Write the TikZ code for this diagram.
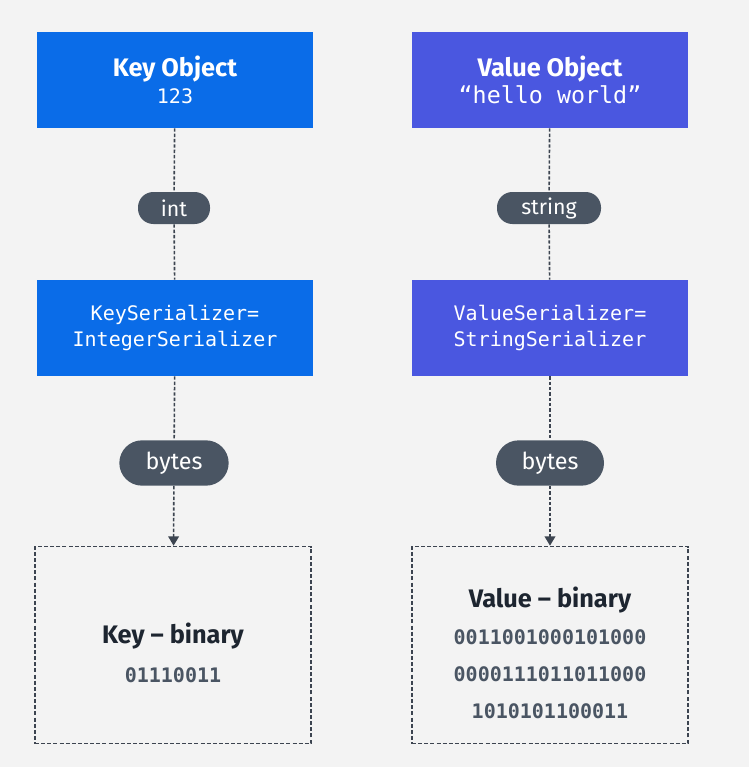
\documentclass[tikz,border=0pt]{standalone}
\usepackage{fontspec}
\setsansfont{Fira Sans}
\setmonofont{DejaVu Sans Mono}
\usetikzlibrary{arrows.meta}
\definecolor{pagebg}{HTML}{F3F3F3}
\definecolor{keyblue}{HTML}{0A6CE8}
\definecolor{valblue}{HTML}{4A57E0}
\definecolor{pillgray}{HTML}{4A5563}
\definecolor{linegray}{HTML}{3C4450}
\definecolor{inkdark}{HTML}{1D2530}
\tikzset{
  objbox/.style={minimum width=207pt,minimum height=72pt,text=white,align=center,inner sep=0pt},
  binbox/.style={draw=linegray,line width=1.2pt,dash pattern=on 3pt off 1.6pt,minimum width=207pt,minimum height=147.75pt,align=center,text=pillgray,inner sep=0pt},
  pill/.style={fill=pillgray,rounded corners=11.5pt,text=white,font=\sffamily\fontsize{16}{18}\selectfont,inner sep=0pt},
  bigpill/.style={pill,minimum height=34pt,rounded corners=17pt,font=\sffamily\fontsize{17.5}{20}\selectfont},
  link/.style={linegray,line width=1.2pt,dash pattern=on 2.6pt off 1.4pt}
}
% #1 = baselineskip
\newcommand{\ttl}[1]{\sffamily\bfseries\fontsize{19}{#1}\selectfont}
\newcommand{\cde}[1]{\ttfamily\fontsize{15}{#1}\selectfont}
\newcommand{\bits}{\ttfamily\bfseries\fontsize{15}{27.75}\selectfont}
\newcommand{\bintl}[1]{\ttl{#1}\color{inkdark}\rule{0pt}{27pt}}
\begin{document}
\begin{tikzpicture}[x=0.75pt,y=-0.75pt]
 \fill[pagebg] (0,0) rectangle (749,767);
 \useasboundingbox (0,0) rectangle (749,767);
 % key side
 \node[objbox,fill=keyblue,font=\cde{20}] (keyobj) at (175,80) {{\ttl{20}Key Object}\\123};
 \node[pill,minimum width=54pt,minimum height=24pt] (keytype) at (174,208) {int};
 \node[objbox,fill=keyblue,font=\cde{19}] (keyser) at (175,328) {KeySerializer=\\IntegerSerializer};
 \node[bigpill,minimum width=82pt] (keybytes) at (174,463) {bytes};
 \node[binbox,font=\ttfamily\bfseries\fontsize{15}{29}\selectfont] (keybin) at (173,645) {{\bintl{29}Key -- binary}\\01110011};
 % value side
 \node[objbox,fill=valblue,font=\ttfamily\fontsize{17.5}{20}\selectfont] (valobj) at (550,80) {{\ttl{20}Value Object}\\“hello world”};
 \node[pill,minimum width=78pt,minimum height=24pt] (valtype) at (549,208) {string};
 \node[objbox,fill=valblue,font=\cde{19}] (valser) at (550,328) {ValueSerializer=\\StringSerializer};
 \node[bigpill,minimum width=81pt] (valbytes) at (550,463) {bytes};
 \node[binbox,font=\bits] (valbin) at (550,645) {{\bintl{27.75}Value -- binary}\\0011001000101000\\0000111011011000\\1010101100011};
 % connectors
 \draw[link] (keyobj) -- (keytype);
 \draw[link] (keytype) -- (keyser);
 \draw[link] (keyser) -- (keybytes);
 \draw[link,-{Triangle[width=8pt,length=7pt]}] (keybytes) -- (keybin);
 \draw[link] (valobj) -- (valtype);
 \draw[link] (valtype) -- (valser);
 \draw[link] (valser) -- (valbytes);
 \draw[link,-{Triangle[width=8pt,length=7pt]}] (valbytes) -- (valbin);
\end{tikzpicture}
\end{document}
